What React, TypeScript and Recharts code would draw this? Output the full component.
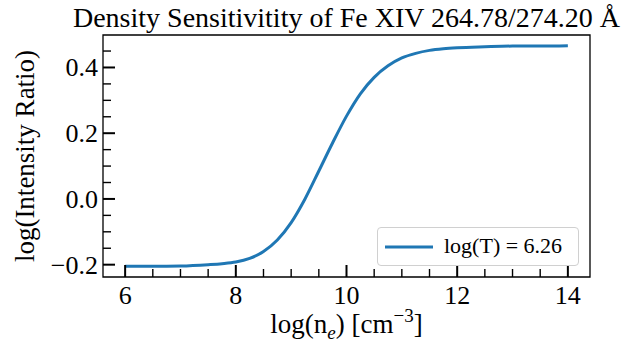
import React from 'react';
import {
  LineChart, Line, XAxis, YAxis, ReferenceArea, Legend, Label,
} from 'recharts';

// values
const density = [6.0, 6.5, 7.0, 7.5, 7.75, 8.0, 8.25, 8.5, 8.75, 9.0, 9.25, 9.5, 9.75, 10.0, 10.25, 10.5, 10.75, 11.0, 11.25, 11.5, 11.75, 12.0, 12.5, 13.0, 13.5, 14.0];
const ratio = [-0.205, -0.205, -0.204, -0.200, -0.197, -0.192, -0.181, -0.160, -0.125, -0.072, 0.000, 0.085, 0.171, 0.252, 0.320, 0.370, 0.405, 0.429, 0.443, 0.452, 0.457, 0.460, 0.463, 0.465, 0.465, 0.466];

const xTicks = [6, 6.5, 7, 7.5, 8, 8.5, 9, 9.5, 10, 10.5, 11, 11.5, 12, 12.5, 13, 13.5, 14];
const xMajor = [6, 8, 10, 12, 14];
const yTicks = [-0.2, -0.15, -0.1, -0.05, 0, 0.05, 0.1, 0.15, 0.2, 0.25, 0.3, 0.35, 0.4, 0.45];
const yMajor = [-0.2, 0, 0.2, 0.4];
const yLabels: Record<string, string> = { '-0.2': '\u22120.2', '0': '0.0', '0.2': '0.2', '0.4': '0.4' };

const xDomain = [5.6, 14.4];
const yDomain = [-0.2375, 0.4988];

const seriesName = 'log(T) = 6.26';
const title = 'Density Sensitivitity of Fe XIV 264.78/274.20 \u00C5';

const data = density.map((d, i) => ({ density: d, ratio: ratio[i] }));

const FONT = '"Liberation Serif", "Times New Roman", serif';
const BLUE = '#1f77b4';

const isMajor = (v: number, list: number[]) => list.some(m => Math.abs(m - v) < 1e-6);

function XTick({ x, y, payload }: any) {
  const major = isMajor(payload.value, xMajor);
  return (
    <g>
      <line x1={x} x2={x} y1={y} y2={y - (major ? 12 : 8)} stroke="#000" strokeWidth={major ? 2 : 1.4} />
      {major && (
        <text x={x} y={y + 27} textAnchor="middle" style={{ fontFamily: FONT, fontSize: 26 }} fill="#000">
          {payload.value}
        </text>
      )}
    </g>
  );
}

function YTick({ x, y, payload }: any) {
  const major = isMajor(payload.value, yMajor);
  const key = String(Math.round(payload.value * 100) / 100);
  return (
    <g>
      <line x1={x} x2={x + (major ? 12 : 8)} y1={y} y2={y} stroke="#000" strokeWidth={major ? 2 : 1.4} />
      {major && (
        <text x={x - 5} y={y + 9} textAnchor="end" style={{ fontFamily: FONT, fontSize: 26 }} fill="#000">
          {yLabels[key]}
        </text>
      )}
    </g>
  );
}

function XLabel({ viewBox }: any) {
  const cx = viewBox.x + viewBox.width / 2;
  return (
    <text x={cx} y={viewBox.y + 56} textAnchor="middle" style={{ fontFamily: FONT, fontSize: 27 }} fill="#000">
      log(n<tspan fontStyle="italic" fontSize={19} dy={6}>e</tspan>
      <tspan dy={-6}>) [cm</tspan>
      <tspan fontSize={19} dy={-11}>{'\u22123'}</tspan>
      <tspan dy={11}>]</tspan>
    </text>
  );
}

function YLabel({ viewBox }: any) {
  const cy = viewBox.y + viewBox.height / 2;
  const lx = 34;
  return (
    <text x={lx} y={cy} transform={`rotate(-90, ${lx}, ${cy})`} textAnchor="middle" style={{ fontFamily: FONT, fontSize: 27 }} fill="#000">
      log(Intensity Ratio)
    </text>
  );
}

function LegendBox({ payload }: any) {
  const item = payload && payload[0];
  return (
    <div style={{
      boxSizing: 'border-box', width: 202, height: 39, border: '1px solid #d0d0d0', borderRadius: 4,
      background: 'rgba(255,255,255,0.8)', display: 'flex', alignItems: 'center',
    }}>
      <svg width={66} height={20} style={{ flex: 'none' }}>
        <line x1={7} x2={55} y1={10} y2={10} stroke={item ? item.color : BLUE} strokeWidth={3} />
      </svg>
      <span style={{ fontFamily: FONT, fontSize: 22, color: '#000', whiteSpace: 'nowrap', marginTop: -1 }}>
        {item ? item.value : seriesName}
      </span>
    </div>
  );
}

export default function App() {
  return (
    <div style={{ position: 'absolute', left: 0, top: 0, width: 626, height: 345, background: '#fff' }}>
      <LineChart width={626} height={345} data={data} margin={{ top: 35, right: 36, bottom: 0, left: 0 }}>
        <XAxis
          dataKey="density" type="number" domain={xDomain} allowDataOverflow ticks={xTicks} interval={0}
          height={68} tickSize={0} tickMargin={0} tickLine={false} axisLine={false} tick={<XTick />}
        >
          <Label content={<XLabel />} />
        </XAxis>
        <YAxis
          type="number" domain={yDomain} allowDataOverflow ticks={yTicks} interval={0}
          width={103} tickSize={0} tickMargin={0} tickLine={false} axisLine={false} tick={<YTick />}
        >
          <Label content={<YLabel />} />
        </YAxis>
        <ReferenceArea x1={xDomain[0]} x2={xDomain[1]} y1={yDomain[0]} y2={yDomain[1]} fill="none" stroke="#000" strokeWidth={1.3} fillOpacity={0} strokeOpacity={1} ifOverflow="visible" />
        <Legend
          layout="vertical" align="center" verticalAlign="middle" content={<LegendBox />}
          wrapperStyle={{ left: 377, top: 227, width: 202, height: 39 }}
        />
        <Line
          type="monotone" dataKey="ratio" name={seriesName} stroke={BLUE} strokeWidth={3}
          dot={false} activeDot={false} isAnimationActive={false}
        />
      </LineChart>
      <svg width={626} height={35} style={{ position: 'absolute', left: 0, top: 0 }}>
        <text x={346.5} y={27} textAnchor="middle" style={{ fontFamily: FONT, fontSize: 28 }} fill="#000">
          {title}
        </text>
      </svg>
    </div>
  );
}
